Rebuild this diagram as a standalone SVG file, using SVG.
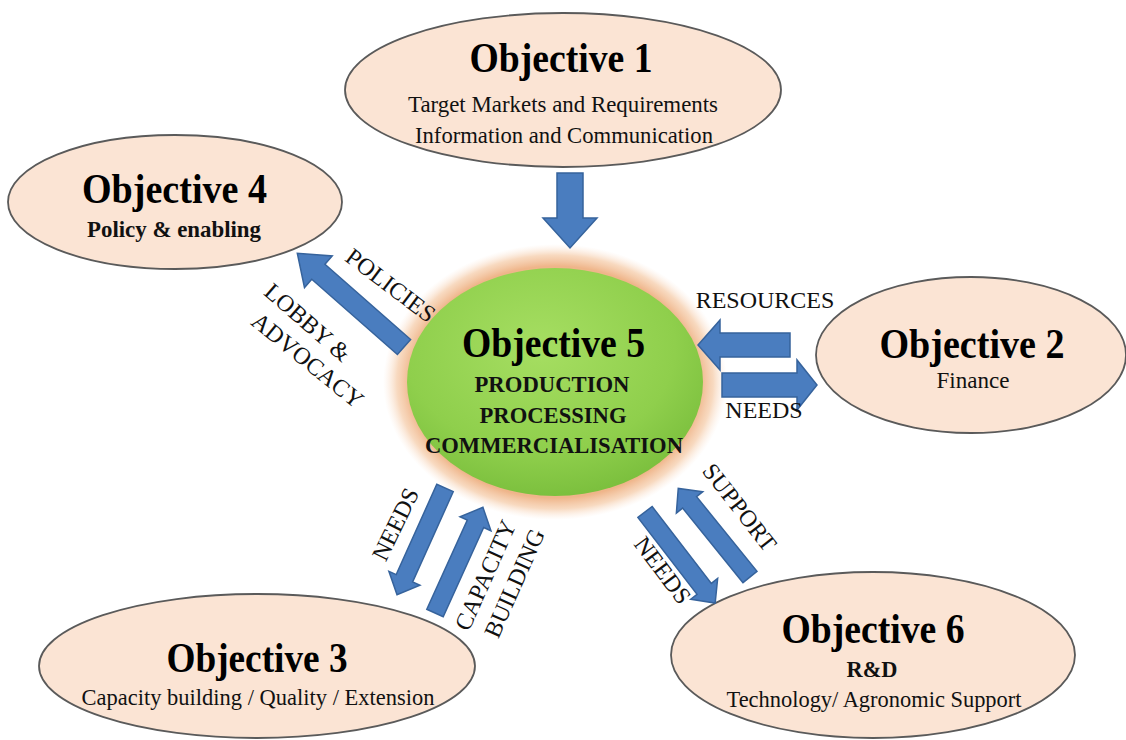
<svg xmlns="http://www.w3.org/2000/svg" width="1126" height="740" viewBox="0 0 1126 740">
<defs>
<radialGradient id="glow" cx="0.5" cy="0.5" r="0.5">
<stop offset="0" stop-color="#efb58a"/>
<stop offset="0.84" stop-color="#efb58a"/>
<stop offset="0.92" stop-color="#f6d0b0" stop-opacity="0.8"/>
<stop offset="1" stop-color="#fbe6d6" stop-opacity="0"/>
</radialGradient>
<radialGradient id="green" cx="0.45" cy="0.35" r="0.65">
<stop offset="0" stop-color="#a6de62"/>
<stop offset="0.7" stop-color="#8fcf4c"/>
<stop offset="1" stop-color="#7cc03e"/>
</radialGradient>
</defs>
<style>
.obj{fill:#fbe4d4;stroke:#5a5a5a;stroke-width:1.8}
.arr{fill:#4a7dbf;stroke:#36639c;stroke-width:1.5}
.t{font-family:"Liberation Serif","Times New Roman",serif;font-weight:bold;font-size:42px;fill:#000;text-anchor:middle}
.s{font-family:"Liberation Serif","Times New Roman",serif;font-size:23px;fill:#111;text-anchor:middle}
.sb{font-family:"Liberation Serif","Times New Roman",serif;font-weight:bold;font-size:23px;fill:#111;text-anchor:middle}
.lab{font-family:"Liberation Serif","Times New Roman",serif;font-size:24px;fill:#111;text-anchor:middle}
</style>
<rect width="1126" height="740" fill="#ffffff"/>

<g id="obj1">
<ellipse class="obj" cx="563" cy="90" rx="218" ry="77"/>
<text class="t" x="561" y="72" textLength="183" lengthAdjust="spacingAndGlyphs">Objective 1</text>
<text class="s" x="563" y="112" textLength="310" lengthAdjust="spacingAndGlyphs">Target Markets and Requirements</text>
<text class="s" x="564" y="143" textLength="298" lengthAdjust="spacingAndGlyphs">Information and Communication</text>
</g>

<g id="obj4">
<ellipse class="obj" cx="175" cy="202" rx="167" ry="67"/>
<text class="t" x="174.5" y="203" textLength="185" lengthAdjust="spacingAndGlyphs">Objective 4</text>
<text class="sb" x="174" y="237" textLength="174" lengthAdjust="spacingAndGlyphs">Policy &amp; enabling</text>
</g>

<g id="obj2">
<ellipse class="obj" cx="971" cy="355" rx="155" ry="78"/>
<text class="t" x="972" y="358" textLength="185" lengthAdjust="spacingAndGlyphs">Objective 2</text>
<text class="s" x="973" y="388" textLength="73" lengthAdjust="spacingAndGlyphs">Finance</text>
</g>

<g id="obj3">
<ellipse class="obj" cx="257" cy="666" rx="218" ry="72"/>
<text class="t" x="257" y="672" textLength="181" lengthAdjust="spacingAndGlyphs">Objective 3</text>
<text class="s" x="258" y="705" textLength="353" lengthAdjust="spacingAndGlyphs">Capacity building / Quality / Extension</text>
</g>

<g id="obj6">
<ellipse class="obj" cx="873" cy="655" rx="202" ry="83"/>
<text class="t" x="873" y="643" textLength="183" lengthAdjust="spacingAndGlyphs">Objective 6</text>
<text class="sb" x="872" y="677" textLength="51" lengthAdjust="spacingAndGlyphs">R&amp;D</text>
<text class="s" x="874" y="707" textLength="295" lengthAdjust="spacingAndGlyphs">Technology/ Agronomic Support</text>
</g>

<g id="obj5">
<ellipse cx="555" cy="382" rx="172" ry="138" fill="url(#glow)"/>
<ellipse cx="555" cy="382" rx="148" ry="114" fill="url(#green)"/>
<text class="t" x="553.5" y="357" textLength="183" lengthAdjust="spacingAndGlyphs">Objective 5</text>
<text class="sb" x="552" y="392" textLength="155" lengthAdjust="spacingAndGlyphs">PRODUCTION</text>
<text class="sb" x="553" y="423" textLength="147" lengthAdjust="spacingAndGlyphs">PROCESSING</text>
<text class="sb" x="554" y="453" textLength="258" lengthAdjust="spacingAndGlyphs">COMMERCIALISATION</text>
</g>

<g id="connectors">
<path class="arr" transform="translate(570,173) rotate(90)" d="M0,-13 L45,-13 L45,-27 L75,0 L45,27 L45,13 L0,13 Z"/>
<path class="arr" transform="translate(404,347) rotate(-138.7)" d="M0,-10 L114,-10 L114,-21 L142,0 L114,21 L114,10 L0,10 Z"/>
<path class="arr" transform="translate(790,345) rotate(180)" d="M0,-12 L70,-12 L70,-25 L92,0 L70,25 L70,12 L0,12 Z"/>
<path class="arr" transform="translate(722,385)" d="M0,-12 L75,-12 L75,-25 L95,0 L75,25 L75,12 L0,12 Z"/>
<path class="arr" transform="translate(445,488) rotate(114.2)" d="M0,-9 L99,-9 L99,-17 L117,0 L99,17 L99,9 L0,9 Z"/>
<path class="arr" transform="translate(435,613) rotate(-65.6)" d="M0,-9 L98,-9 L98,-17 L116,0 L98,17 L98,9 L0,9 Z"/>
<path class="arr" transform="translate(645,512) rotate(52.4)" d="M0,-9 L97,-9 L97,-17 L115,0 L97,17 L97,9 L0,9 Z"/>
<path class="arr" transform="translate(750,577) rotate(-129)" d="M0,-9 L96,-9 L96,-17 L114,0 L96,17 L96,9 L0,9 Z"/>

<text class="lab" transform="translate(391,285) rotate(37)" y="8.5">POLICIES</text>
<text class="lab" transform="translate(308,322) rotate(41)" y="8.5">LOBBY &amp;</text>
<text class="lab" transform="translate(308,360) rotate(39)" y="8.5">ADVOCACY</text>
<text class="lab" x="765" y="308">RESOURCES</text>
<text class="lab" x="764" y="418">NEEDS</text>
<text class="lab" transform="translate(395,524) rotate(-64)" y="8.5">NEEDS</text>
<text class="lab" transform="translate(485,575) rotate(-66)" y="8.5">CAPACITY</text>
<text class="lab" transform="translate(514,583) rotate(-66)" y="8.5">BUILDING</text>
<text class="lab" transform="translate(740,507) rotate(52)" y="8.5">SUPPORT</text>
<text class="lab" transform="translate(663,570) rotate(53)" y="8.5">NEEDS</text>
</g>
</svg>
